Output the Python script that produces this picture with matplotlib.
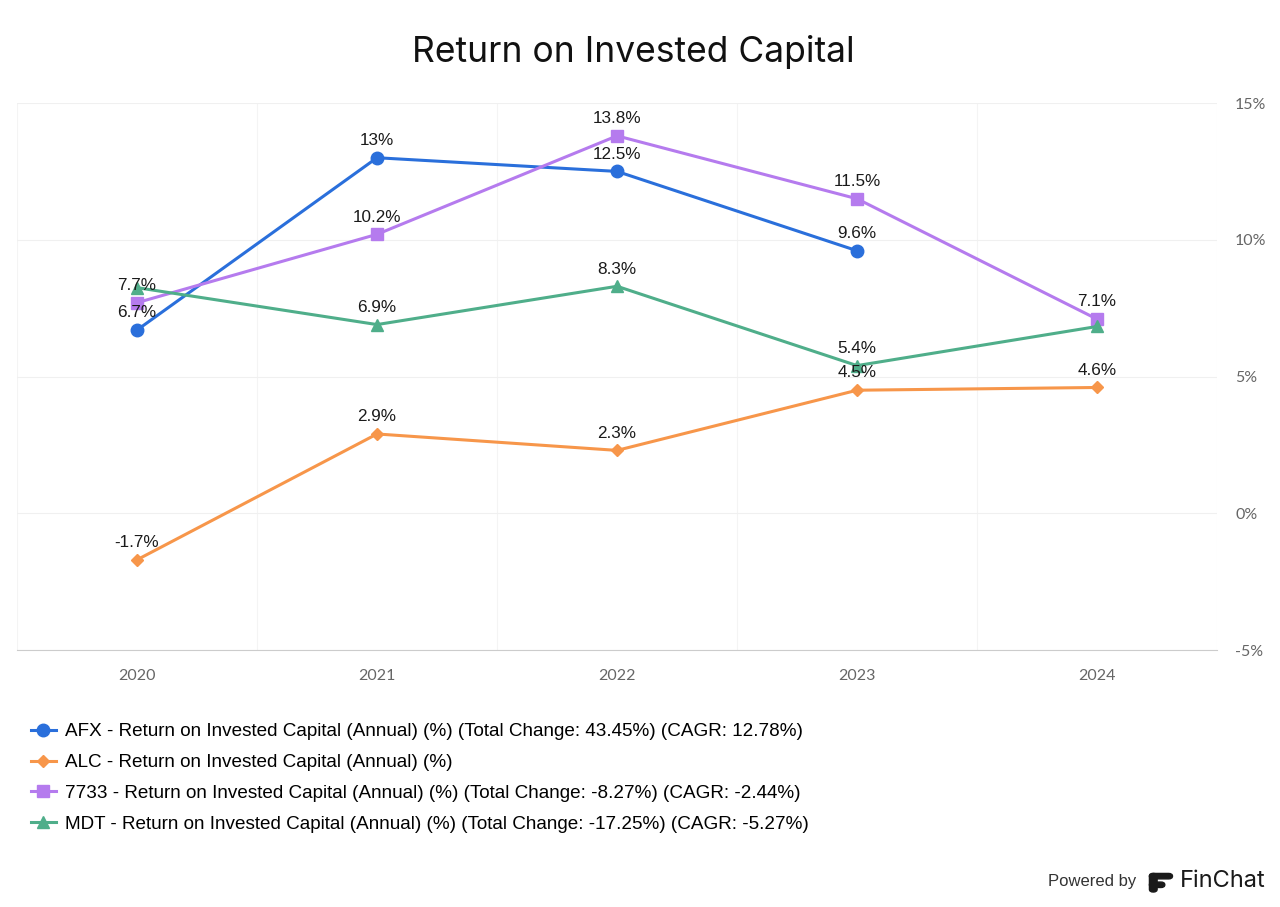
import numpy as np
import matplotlib.pyplot as plt
from matplotlib.patches import FancyBboxPatch

years = ['2020', '2021', '2022', '2023', '2024']
afx = [6.7, 13.0, 12.5, 9.6, np.nan]
alc = [-1.7, 2.9, 2.3, 4.5, 4.6]
s7733 = [7.7, 10.2, 13.8, 11.5, 7.1]
mdt = [8.25, 6.9, 8.3, 5.4, 6.83]

series = [
    ('AFX - Return on Invested Capital (Annual) (%) (Total Change: 43.45%) (CAGR: 12.78%)',
     afx, '#2A6FDB', 'o', 9, []),
    ('ALC - Return on Invested Capital (Annual) (%)',
     alc, '#F7964A', 'D', 6, []),
    ('7733 - Return on Invested Capital (Annual) (%) (Total Change: -8.27%) (CAGR: -2.44%)',
     s7733, '#B57BEE', 's', 9, []),
    ('MDT - Return on Invested Capital (Annual) (%) (Total Change: -17.25%) (CAGR: -5.27%)',
     mdt, '#4FAE8A', '^', 9, [0, 4]),  # labels hidden where they overlap
]

fig = plt.figure(figsize=(12.8, 9.07), dpi=100)
ax = fig.add_axes([0.0133, 0.2833, 0.9375, 0.6031])
x = np.arange(len(years))

for label, vals, color, marker, ms, hidden in series:
    ax.plot(x, vals, color=color, marker=marker, markersize=ms, linewidth=2.2,
            label=label, zorder=3)
    for i, v in enumerate(vals):
        if np.isnan(v) or i in hidden:
            continue
        ax.annotate('%g%%' % v, (x[i], v), xytext=(0, 7), textcoords='offset points',
                    ha='center', va='bottom', fontsize=12.3, family='Liberation Sans',
                    color='#1a1a1a', zorder=4)

ax.set_xlim(-0.5, 4.5)
ax.set_ylim(-5, 15)
ax.set_yticks([-5, 0, 5, 10, 15])
ax.set_yticklabels(['-5%', '0%', '5%', '10%', '15%'])
ax.yaxis.tick_right()
ax.set_xticks(x)
ax.set_xticklabels(years)
ax.set_xticks(np.arange(-0.5, 5, 1), minor=True)
ax.tick_params(axis='both', which='both', length=0, labelsize=11.5, labelcolor='#666666')
ax.tick_params(axis='x', pad=14)
ax.tick_params(axis='y', pad=13)
for t in ax.get_xticklabels() + ax.get_yticklabels():
    t.set_family('Lato')
ax.grid(True, axis='y', which='major', color='#f0f0f0', linewidth=0.8)
ax.grid(True, axis='x', which='minor', color='#f4f4f4', linewidth=0.8)
for side in ['top', 'left', 'right']:
    ax.spines[side].set_visible(False)
ax.spines['bottom'].set_color('#cccccc')

fig.text(0.495, 0.943, 'Return on Invested Capital', ha='center', va='center',
         fontsize=25.5, family='Inter', color='#111111')

fig.legend(loc='upper left', bbox_to_anchor=(0.018, 0.211), frameon=False,
           prop={'family': 'Liberation Sans', 'size': 13.6}, handlelength=1.35,
           handletextpad=0.45, labelspacing=0.72, borderaxespad=0)

# footer
fig.text(0.888, 0.028, 'Powered by', ha='right', va='center', fontsize=12,
         family='Liberation Sans', color='#333333')
fig.patches.append(FancyBboxPatch((0.898, 0.0215), 0.012, 0.006, boxstyle='round,pad=0,rounding_size=0.003',
                                  transform=fig.transFigure, color='#1a1a1a'))
fig.patches.append(FancyBboxPatch((0.898, 0.031), 0.018, 0.006, boxstyle='round,pad=0,rounding_size=0.003',
                                  transform=fig.transFigure, color='#1a1a1a'))
fig.patches.append(FancyBboxPatch((0.898, 0.0165), 0.006, 0.0205, boxstyle='round,pad=0,rounding_size=0.003',
                                  transform=fig.transFigure, color='#1a1a1a'))
fig.text(0.922, 0.029, 'FinChat', ha='left', va='center', fontsize=17,
         family='Inter', color='#1a1a1a')

fig.savefig('out.png', dpi=100, facecolor='white')
